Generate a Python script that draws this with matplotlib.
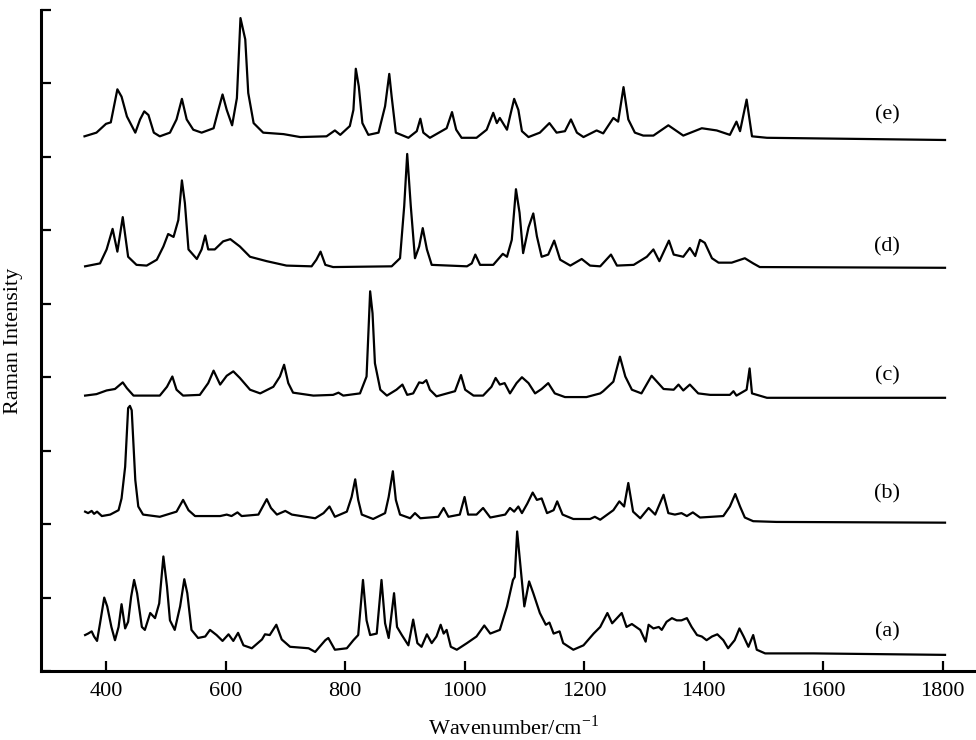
import matplotlib
matplotlib.use("Agg")
import matplotlib.pyplot as plt

plt.rcParams['font.family'] = ['Liberation Serif', 'DejaVu Serif']

# spectra (wavenumber in cm-1, stacked intensity in axis units)
a_w = [365, 370, 376, 380, 385, 390, 397, 402, 409, 415, 421, 426, 432, 437, 442, 447, 452, 460, 465, 474,
       482, 489, 496, 502, 507, 515, 524, 531, 536, 543, 554, 566, 574, 585, 595, 605, 613, 621, 630, 644,
       661, 666, 674, 685, 694, 708, 739, 750, 767, 772, 783, 803, 814, 822, 830, 836, 842, 853, 861, 867,
       873, 882, 887, 895, 906, 914, 921, 928, 937, 945, 953, 960, 965, 970, 977, 987, 1004, 1020, 1033, 1043,
       1059, 1071, 1081, 1084, 1088, 1093, 1100, 1108, 1115, 1126, 1136, 1142, 1149, 1159, 1165, 1182, 1199, 1216, 1227, 1239,
       1247, 1263, 1271, 1280, 1294, 1303, 1308, 1316, 1325, 1330, 1338, 1347, 1355, 1363, 1372, 1380, 1389, 1397, 1405, 1414,
       1423, 1433, 1441, 1452, 1460, 1467, 1475, 1483, 1489, 1503, 1584, 1804]
a_y = [0.49, 0.51, 0.54, 0.47, 0.41, 0.65, 1.00, 0.88, 0.60, 0.42, 0.60, 0.91, 0.58, 0.67, 1.01, 1.24, 1.06, 0.60, 0.56, 0.79,
       0.72, 0.92, 1.56, 1.15, 0.69, 0.56, 0.88, 1.25, 1.06, 0.56, 0.45, 0.47, 0.56, 0.49, 0.41, 0.50, 0.41, 0.52, 0.35, 0.31,
       0.43, 0.50, 0.49, 0.63, 0.43, 0.33, 0.31, 0.26, 0.42, 0.45, 0.29, 0.31, 0.42, 0.49, 1.24, 0.69, 0.49, 0.51, 1.24, 0.65,
       0.45, 1.06, 0.60, 0.49, 0.35, 0.70, 0.38, 0.33, 0.50, 0.38, 0.47, 0.63, 0.51, 0.56, 0.33, 0.29, 0.38, 0.47, 0.62, 0.51,
       0.56, 0.88, 1.24, 1.28, 1.90, 1.47, 0.88, 1.22, 1.06, 0.79, 0.63, 0.66, 0.51, 0.54, 0.38, 0.29, 0.35, 0.51, 0.60, 0.79,
       0.65, 0.79, 0.60, 0.64, 0.56, 0.40, 0.63, 0.58, 0.60, 0.56, 0.67, 0.72, 0.69, 0.69, 0.72, 0.60, 0.49, 0.47, 0.42, 0.47,
       0.50, 0.42, 0.31, 0.42, 0.58, 0.47, 0.33, 0.49, 0.29, 0.24, 0.24, 0.22]

b_w = [365, 370, 376, 380, 385, 393, 407, 421, 426, 432, 437, 440, 443, 449, 454, 462, 490, 518, 529, 538,
       549, 591, 602, 610, 620, 627, 655, 669, 676, 686, 700, 711, 750, 764, 774, 783, 803, 811, 817, 822,
       828, 847, 867, 873, 880, 885, 892, 909, 917, 926, 956, 965, 973, 992, 1000, 1006, 1020, 1031, 1043, 1068,
       1076, 1083, 1090, 1096, 1105, 1114, 1121, 1129, 1138, 1149, 1155, 1164, 1182, 1210, 1218, 1227, 1249, 1259, 1267, 1274,
       1282, 1294, 1308, 1319, 1333, 1341, 1352, 1363, 1372, 1382, 1394, 1433, 1444, 1453, 1461, 1469, 1483, 1522, 1804]
b_y = [2.17, 2.15, 2.18, 2.14, 2.17, 2.11, 2.13, 2.19, 2.35, 2.78, 3.58, 3.61, 3.55, 2.60, 2.24, 2.13, 2.10, 2.17, 2.33, 2.19,
       2.11, 2.11, 2.13, 2.11, 2.16, 2.11, 2.13, 2.34, 2.22, 2.13, 2.18, 2.13, 2.08, 2.15, 2.24, 2.10, 2.17, 2.37, 2.61, 2.33,
       2.13, 2.07, 2.15, 2.37, 2.72, 2.33, 2.13, 2.08, 2.15, 2.08, 2.10, 2.22, 2.10, 2.13, 2.37, 2.13, 2.13, 2.22, 2.09, 2.13,
       2.22, 2.17, 2.24, 2.15, 2.28, 2.43, 2.33, 2.35, 2.15, 2.19, 2.31, 2.13, 2.07, 2.07, 2.10, 2.06, 2.19, 2.31, 2.24, 2.56,
       2.17, 2.08, 2.22, 2.13, 2.40, 2.15, 2.13, 2.15, 2.11, 2.16, 2.09, 2.11, 2.24, 2.41, 2.24, 2.09, 2.04, 2.03, 2.02]

c_w = [365, 384, 401, 415, 428, 435, 446, 490, 502, 511, 518, 529, 557, 571, 580, 591, 602, 613, 624, 641,
       658, 680, 691, 698, 705, 713, 747, 780, 789, 797, 825, 836, 842, 846, 850, 859, 870, 886, 896, 904,
       914, 924, 930, 936, 942, 953, 984, 994, 1001, 1015, 1031, 1045, 1052, 1059, 1067, 1076, 1087, 1096, 1107, 1118,
       1129, 1140, 1151, 1168, 1204, 1227, 1232, 1249, 1260, 1269, 1280, 1296, 1313, 1333, 1350, 1358, 1366, 1377, 1391, 1411,
       1444, 1450, 1455, 1472, 1477, 1481, 1506, 1804]
c_y = [3.75, 3.77, 3.82, 3.84, 3.93, 3.85, 3.75, 3.75, 3.87, 4.01, 3.83, 3.75, 3.76, 3.92, 4.09, 3.90, 4.02, 4.08, 3.99, 3.83,
       3.78, 3.87, 4.01, 4.17, 3.92, 3.79, 3.75, 3.76, 3.79, 3.75, 3.78, 4.01, 5.17, 4.87, 4.19, 3.83, 3.75, 3.83, 3.90, 3.76,
       3.78, 3.93, 3.92, 3.96, 3.83, 3.74, 3.81, 4.03, 3.83, 3.75, 3.75, 3.87, 3.99, 3.90, 3.92, 3.78, 3.92, 4.00, 3.92, 3.78,
       3.84, 3.92, 3.78, 3.73, 3.73, 3.78, 3.81, 3.94, 4.28, 4.01, 3.83, 3.78, 4.02, 3.84, 3.83, 3.90, 3.82, 3.90, 3.78, 3.76,
       3.76, 3.81, 3.75, 3.83, 4.12, 3.78, 3.72, 3.72]

d_w = [365, 390, 401, 411, 419, 428, 437, 451, 468, 485, 496, 504, 513, 521, 527, 532, 538, 552, 560, 566,
       571, 582, 596, 608, 624, 641, 669, 702, 744, 752, 759, 767, 780, 878, 892, 899, 904, 910, 917, 924,
       930, 937, 945, 1004, 1012, 1018, 1026, 1048, 1064, 1071, 1079, 1086, 1092, 1098, 1107, 1115, 1121, 1129, 1140, 1150,
       1160, 1177, 1196, 1210, 1227, 1245, 1255, 1283, 1305, 1316, 1326, 1342, 1350, 1366, 1377, 1386, 1394, 1402, 1414, 1425,
       1447, 1469, 1483, 1494, 1804]
d_y = [5.51, 5.55, 5.74, 6.02, 5.71, 6.18, 5.64, 5.53, 5.52, 5.60, 5.78, 5.95, 5.91, 6.14, 6.68, 6.37, 5.74, 5.61, 5.74, 5.93,
       5.74, 5.74, 5.85, 5.88, 5.78, 5.64, 5.58, 5.52, 5.51, 5.60, 5.71, 5.53, 5.50, 5.51, 5.62, 6.33, 7.04, 6.33, 5.62, 5.78,
       6.03, 5.74, 5.53, 5.51, 5.55, 5.67, 5.53, 5.53, 5.68, 5.64, 5.87, 6.56, 6.24, 5.69, 6.04, 6.23, 5.92, 5.64, 5.67, 5.86,
       5.60, 5.52, 5.61, 5.52, 5.51, 5.67, 5.52, 5.53, 5.64, 5.74, 5.58, 5.86, 5.67, 5.64, 5.76, 5.65, 5.87, 5.83, 5.62, 5.56,
       5.56, 5.62, 5.55, 5.50, 5.49]

e_w = [364, 384, 400, 408, 419, 426, 435, 449, 457, 464, 471, 480, 490, 507, 518, 527, 535, 546, 560, 580,
       588, 595, 602, 611, 619, 625, 633, 638, 647, 663, 697, 725, 769, 783, 792, 808, 814, 818, 823, 829,
       839, 856, 867, 874, 878, 885, 906, 920, 926, 931, 942, 970, 979, 986, 995, 1020, 1037, 1048, 1054, 1059,
       1071, 1076, 1083, 1090, 1096, 1107, 1126, 1142, 1154, 1168, 1178, 1188, 1199, 1221, 1232, 1249, 1257, 1266, 1274, 1285,
       1299, 1316, 1341, 1366, 1397, 1422, 1444, 1455, 1461, 1472, 1481, 1506, 1804]
e_y = [7.28, 7.33, 7.45, 7.47, 7.92, 7.82, 7.55, 7.33, 7.51, 7.62, 7.57, 7.33, 7.28, 7.33, 7.51, 7.79, 7.51, 7.37, 7.33, 7.39,
       7.64, 7.85, 7.64, 7.43, 7.80, 8.89, 8.60, 7.87, 7.46, 7.33, 7.31, 7.27, 7.28, 7.36, 7.30, 7.42, 7.64, 8.20, 7.96, 7.46,
       7.30, 7.33, 7.69, 8.13, 7.82, 7.33, 7.26, 7.35, 7.52, 7.33, 7.26, 7.39, 7.61, 7.37, 7.26, 7.26, 7.37, 7.60, 7.46, 7.53,
       7.37, 7.55, 7.79, 7.64, 7.35, 7.27, 7.33, 7.46, 7.33, 7.35, 7.51, 7.33, 7.27, 7.36, 7.32, 7.53, 7.48, 7.95, 7.51, 7.33,
       7.29, 7.29, 7.43, 7.29, 7.39, 7.36, 7.30, 7.48, 7.35, 7.78, 7.28, 7.26, 7.23]

labels = ['(a)', '(b)', '(c)', '(d)', '(e)']
label_y = [0.54, 2.41, 4.02, 5.78, 7.57]
label_x = 1707

fig = plt.figure(figsize=(9.76, 7.40), dpi=100)
ax = fig.add_axes([0.0425, 0.0932, 0.968, 0.8933])

for w, y in [(a_w, a_y), (b_w, b_y), (c_w, c_y), (d_w, d_y), (e_w, e_y)]:
    ax.plot(w, y, color='black', lw=1.6, solid_joinstyle='round')

for lab, ly in zip(labels, label_y):
    ax.text(label_x, ly, lab, fontsize=16, ha='center', va='center')

ax.set_xlim(292, 1873)
ax.set_ylim(0, 9)
ax.set_xticks(range(400, 1801, 200))
ax.set_yticks(range(0, 10))
ax.set_yticklabels([])
ax.spines['top'].set_visible(False)
ax.spines['right'].set_visible(False)
ax.spines['left'].set_linewidth(2.2)
ax.spines['bottom'].set_linewidth(2.2)
ax.tick_params(direction='in', length=7.5, width=1.6, labelsize=16, pad=8)
ax.set_xlabel('Wavenumber/cm$^{\\mathregular{-1}}$', fontsize=16, labelpad=10)
ax.set_ylabel('Raman Intensity', fontsize=16, va='center')
ax.yaxis.set_label_coords(-0.030, 0.5)

fig.savefig('out.png', dpi=100)
